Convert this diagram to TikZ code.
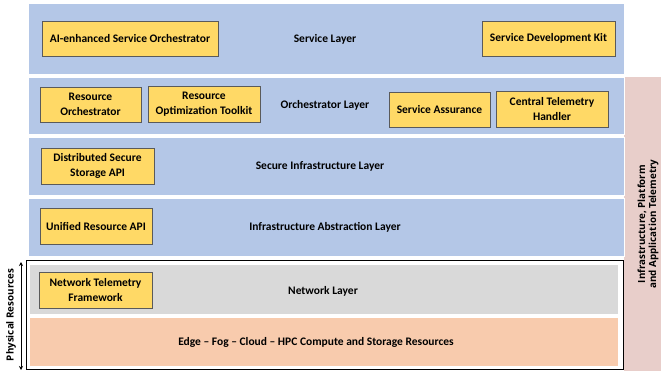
\documentclass[tikz,border=0pt]{standalone}
\usepackage{fontspec}
\setmainfont{Carlito}
\newfontfamily\sidefont{Open Sans}
\usetikzlibrary{arrows.meta}
\definecolor{layerblue}{RGB}{180,199,231}
\definecolor{boxyellow}{RGB}{255,217,102}
\definecolor{netgray}{RGB}{217,217,217}
\definecolor{peach}{RGB}{248,203,173}
\definecolor{telepink}{RGB}{232,206,202}
\definecolor{boxborder}{RGB}{90,90,90}
\tikzset{
  layer/.style={fill=layerblue, draw=white, line width=0.8pt},
  comp/.style={fill=boxyellow, draw=boxborder, line width=0.6pt, inner sep=0pt,
    font=\bfseries\fontsize{11.5}{14.5}\selectfont, align=center},
  lbl/.style={font=\bfseries\fontsize{11.5}{14.5}\selectfont, align=center, inner sep=0pt},
  sidelbl/.style={font=\sidefont\bfseries\fontsize{9.8}{11}\selectfont, align=center, inner sep=0pt},
}
\begin{document}
\begin{tikzpicture}[x=1pt,y=-1pt]
\useasboundingbox (0,0) rectangle (661,371);
% right telemetry bar
\fill[telepink] (624,77) rectangle (661,371);
\node[sidelbl, rotate=90] (tele) at (648,224) {Infrastructure, Platform\\and Application Telemetry};
% layers
\draw[layer] (28,3) rectangle (624,74);
\node[lbl] (svcl) at (325,39) {Service Layer};
\draw[layer] (28,77) rectangle (624,134);
\node[lbl] (orchl) at (325,105) {Orchestrator Layer};
\draw[layer] (28,137) rectangle (624,195);
\node[lbl] (secl) at (320,166) {Secure Infrastructure Layer};
\draw[layer] (28,198) rectangle (624,256);
\node[lbl] (absl) at (325,227) {Infrastructure Abstraction Layer};
% physical resources frame
\draw[black, line width=1pt] (26,261) rectangle (623,369);
\fill[netgray] (30,265) rectangle (618,314);
\node[lbl] (netl) at (323,291) {Network Layer};
\fill[peach] (30,318) rectangle (618,366);
\node[lbl] (edge) at (316,342) {Edge -- Fog -- Cloud -- HPC Compute and Storage Resources};
% components
\node[comp, minimum width=176, minimum height=35] (aiso) at (130,38.5) {AI-enhanced Service Orchestrator};
\node[comp, minimum width=133, minimum height=35] (sdk) at (548.5,38.5) {Service Development Kit};
\node[comp, minimum width=101, minimum height=35] (ro) at (90.5,104.5) {Resource\\Orchestrator};
\node[comp, minimum width=112, minimum height=36] (rot) at (204,104) {Resource\\Optimization Toolkit};
\node[comp, minimum width=101, minimum height=35] (sa) at (439.5,109.5) {Service Assurance};
\node[comp, minimum width=112, minimum height=36] (cth) at (552,109) {Central Telemetry\\Handler};
\node[comp, minimum width=113, minimum height=36] (dss) at (97.5,166) {Distributed Secure\\Storage API};
\node[comp, minimum width=112, minimum height=36] (ura) at (96,226) {Unified Resource API};
\node[comp, minimum width=113, minimum height=36] (ntf) at (95.5,290) {Network Telemetry\\Framework};
% physical resources arrow
\coordinate (pt) at (21,262);
\coordinate (pb) at (21,370);
\draw[{Stealth[length=4pt,width=4pt]}-{Stealth[length=4pt,width=4pt]}, line width=0.9pt] (pt) -- (pb);
\node[sidelbl, rotate=90] (phys) at (11,315) {Physical Resources};
\end{tikzpicture}
\end{document}
